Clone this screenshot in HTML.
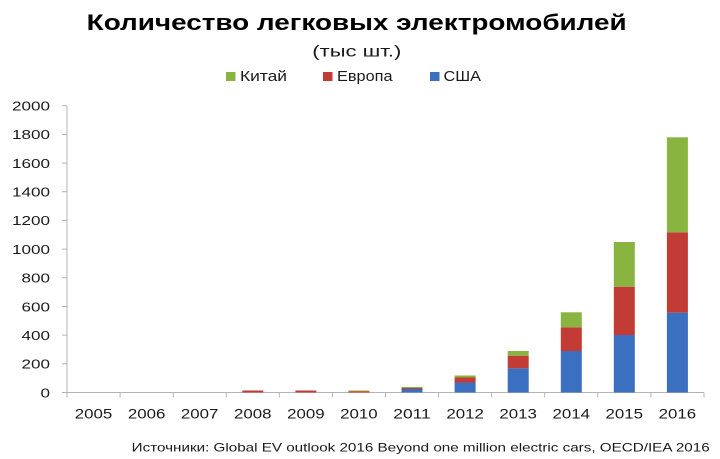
<!DOCTYPE html>
<html><head><meta charset="utf-8"><style>
html,body{margin:0;padding:0;background:#fff;}
svg{display:block;}
text{font-family:"Liberation Sans","DejaVu Sans",sans-serif;fill:#1a1a1a;}
</style></head><body>
<svg width="720" height="459" viewBox="0 0 720 459" xmlns="http://www.w3.org/2000/svg">
<rect width="720" height="459" fill="#fff"/>
<text x="86.7" y="30" font-size="22" font-weight="bold" textLength="540" lengthAdjust="spacingAndGlyphs" style="fill:#000">Количество легковых электромобилей</text>
<text x="312.3" y="56.7" font-size="16" textLength="89" lengthAdjust="spacingAndGlyphs">(тыс шт.)</text>
<!-- legend -->
<rect x="226" y="72" width="9.5" height="9" fill="#8ab440"/>
<text x="240" y="81" font-size="15" textLength="47" lengthAdjust="spacingAndGlyphs">Китай</text>
<rect x="323" y="72" width="9.5" height="9" fill="#c23b35"/>
<text x="337" y="81" font-size="15" textLength="55.5" lengthAdjust="spacingAndGlyphs">Европа</text>
<rect x="430" y="72" width="9.5" height="9" fill="#3a70bf"/>
<text x="443.5" y="81" font-size="15" textLength="37.5" lengthAdjust="spacingAndGlyphs">США</text>
<!-- axes -->
<g stroke="#b4b4b4" stroke-width="1">
<line x1="67" y1="105.7" x2="67" y2="392.5"/>
<line x1="67" y1="392.5" x2="704" y2="392.5"/>
<line x1="62" y1="105.7" x2="67" y2="105.7"/>
<line x1="62" y1="134.4" x2="67" y2="134.4"/>
<line x1="62" y1="163.1" x2="67" y2="163.1"/>
<line x1="62" y1="191.7" x2="67" y2="191.7"/>
<line x1="62" y1="220.4" x2="67" y2="220.4"/>
<line x1="62" y1="249.1" x2="67" y2="249.1"/>
<line x1="62" y1="277.8" x2="67" y2="277.8"/>
<line x1="62" y1="306.5" x2="67" y2="306.5"/>
<line x1="62" y1="335.1" x2="67" y2="335.1"/>
<line x1="62" y1="363.8" x2="67" y2="363.8"/>
<line x1="62" y1="392.5" x2="67" y2="392.5"/>
<line x1="67" y1="392.5" x2="67" y2="397.5"/>
<line x1="120.1" y1="392.5" x2="120.1" y2="397.5"/>
<line x1="173.2" y1="392.5" x2="173.2" y2="397.5"/>
<line x1="226.2" y1="392.5" x2="226.2" y2="397.5"/>
<line x1="279.3" y1="392.5" x2="279.3" y2="397.5"/>
<line x1="332.4" y1="392.5" x2="332.4" y2="397.5"/>
<line x1="385.5" y1="392.5" x2="385.5" y2="397.5"/>
<line x1="438.6" y1="392.5" x2="438.6" y2="397.5"/>
<line x1="491.6" y1="392.5" x2="491.6" y2="397.5"/>
<line x1="544.7" y1="392.5" x2="544.7" y2="397.5"/>
<line x1="597.8" y1="392.5" x2="597.8" y2="397.5"/>
<line x1="650.9" y1="392.5" x2="650.9" y2="397.5"/>
<line x1="704" y1="392.5" x2="704" y2="397.5"/>
</g>
<!-- y labels -->
<g font-size="13" text-anchor="end">
<text x="50" y="110.5" textLength="38" lengthAdjust="spacingAndGlyphs">2000</text>
<text x="50" y="139.2" textLength="38" lengthAdjust="spacingAndGlyphs">1800</text>
<text x="50" y="167.9" textLength="38" lengthAdjust="spacingAndGlyphs">1600</text>
<text x="50" y="196.5" textLength="38" lengthAdjust="spacingAndGlyphs">1400</text>
<text x="50" y="225.2" textLength="38" lengthAdjust="spacingAndGlyphs">1200</text>
<text x="50" y="253.9" textLength="38" lengthAdjust="spacingAndGlyphs">1000</text>
<text x="50" y="282.6" textLength="28.5" lengthAdjust="spacingAndGlyphs">800</text>
<text x="50" y="311.3" textLength="28.5" lengthAdjust="spacingAndGlyphs">600</text>
<text x="50" y="339.9" textLength="28.5" lengthAdjust="spacingAndGlyphs">400</text>
<text x="50" y="368.6" textLength="28.5" lengthAdjust="spacingAndGlyphs">200</text>
<text x="50" y="397.3" textLength="9.5" lengthAdjust="spacingAndGlyphs">0</text>
</g>
<!-- x labels -->
<g font-size="14" text-anchor="middle">
<text x="93.5" y="418.3" textLength="37.5" lengthAdjust="spacingAndGlyphs">2005</text>
<text x="146.6" y="418.3" textLength="37.5" lengthAdjust="spacingAndGlyphs">2006</text>
<text x="199.7" y="418.3" textLength="37.5" lengthAdjust="spacingAndGlyphs">2007</text>
<text x="252.8" y="418.3" textLength="37.5" lengthAdjust="spacingAndGlyphs">2008</text>
<text x="305.9" y="418.3" textLength="37.5" lengthAdjust="spacingAndGlyphs">2009</text>
<text x="358.9" y="418.3" textLength="37.5" lengthAdjust="spacingAndGlyphs">2010</text>
<text x="412" y="418.3" textLength="37.5" lengthAdjust="spacingAndGlyphs">2011</text>
<text x="465.1" y="418.3" textLength="37.5" lengthAdjust="spacingAndGlyphs">2012</text>
<text x="518.2" y="418.3" textLength="37.5" lengthAdjust="spacingAndGlyphs">2013</text>
<text x="571.3" y="418.3" textLength="37.5" lengthAdjust="spacingAndGlyphs">2014</text>
<text x="624.3" y="418.3" textLength="37.5" lengthAdjust="spacingAndGlyphs">2015</text>
<text x="677.4" y="418.3" textLength="37.5" lengthAdjust="spacingAndGlyphs">2016</text>
</g>
<!-- bars -->
<g>
<rect x="242.3" y="390.5" width="21" height="2" fill="#c23b35"/>
<rect x="295.4" y="390.5" width="21" height="2" fill="#c23b35"/>
<rect x="348.4" y="390.5" width="21" height="1" fill="#a8a040"/>
<rect x="348.4" y="391.5" width="21" height="1" fill="#c23b35"/>

<rect x="401.5" y="389" width="21" height="3.5" fill="#3a70bf"/>
<rect x="401.5" y="388" width="21" height="1" fill="#c23b35"/>
<rect x="401.5" y="387" width="21" height="1" fill="#8ab440"/>

<rect x="454.6" y="382.5" width="21" height="10" fill="#3a70bf"/>
<rect x="454.6" y="377.5" width="21" height="5" fill="#c23b35"/>
<rect x="454.6" y="375.5" width="21" height="2" fill="#8ab440"/>

<rect x="507.7" y="368.3" width="21" height="24.2" fill="#3a70bf"/>
<rect x="507.7" y="355.7" width="21" height="12.6" fill="#c23b35"/>
<rect x="507.7" y="351" width="21" height="4.7" fill="#8ab440"/>

<rect x="560.8" y="351" width="21" height="41.5" fill="#3a70bf"/>
<rect x="560.8" y="327.3" width="21" height="23.7" fill="#c23b35"/>
<rect x="560.8" y="312.3" width="21" height="15" fill="#8ab440"/>

<rect x="613.8" y="335" width="21" height="57.5" fill="#3a70bf"/>
<rect x="613.8" y="286.7" width="21" height="48.3" fill="#c23b35"/>
<rect x="613.8" y="242" width="21" height="44.7" fill="#8ab440"/>

<rect x="666.9" y="312.7" width="21" height="79.8" fill="#3a70bf"/>
<rect x="666.9" y="232.3" width="21" height="80.4" fill="#c23b35"/>
<rect x="666.9" y="137.3" width="21" height="95" fill="#8ab440"/>
</g>
<text x="131.7" y="451.7" font-size="12" textLength="578" lengthAdjust="spacingAndGlyphs">Источники: Global EV outlook 2016 Beyond one million electric cars, OECD/IEA 2016</text>
</svg>
</body></html>
